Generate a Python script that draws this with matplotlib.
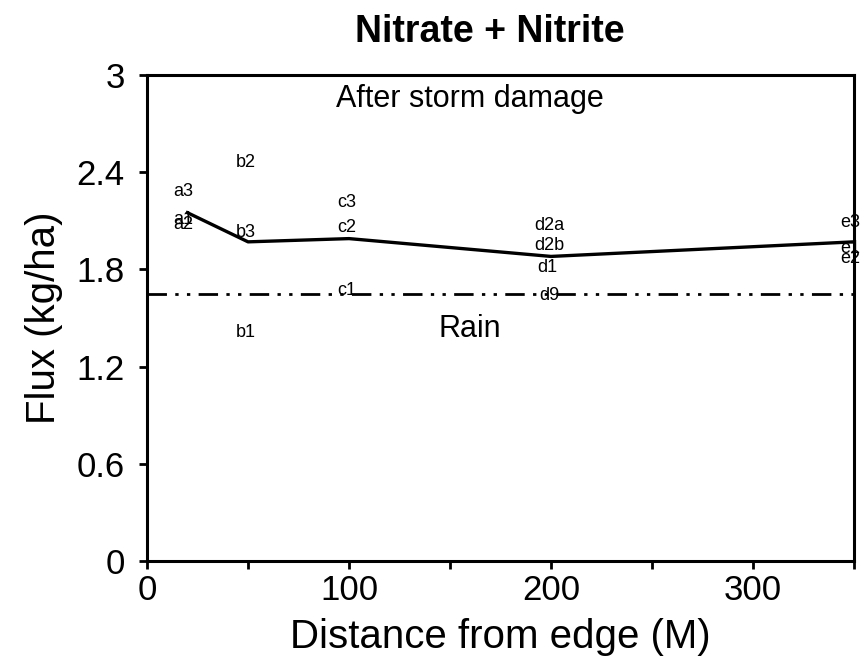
import matplotlib.pyplot as plt

plt.rcParams['font.family'] = ['Liberation Sans', 'DejaVu Sans']

# mean flux along the transect
line_x = [20, 50, 100, 200, 350]
line_y = [2.15, 1.97, 1.99, 1.88, 1.97]

# individual collector values
site_labels = ['a3', 'a1', 'a2', 'b2', 'b3', 'b1', 'c3', 'c2', 'c1',
               'd2a', 'd2b', 'd1', 'd9', 'e3', 'e1', 'e2']
site_x = [18, 18, 18, 49, 49, 49, 99, 99, 99,
          199, 199, 198, 199, 348, 348, 348]
site_y = [2.28, 2.11, 2.08, 2.46, 2.03, 1.41, 2.21, 2.06, 1.67,
          2.07, 1.95, 1.81, 1.64, 2.09, 1.93, 1.87]

rain_flux = 1.65
x_range = [0, 350]

y_ticks = [0, 0.6, 1.2, 1.8, 2.4, 3]
y_tick_labels = ['0', '0.6', '1.2', '1.8', '2.4', '3']
x_ticks = [0, 100, 200, 300]


def main():
    fig = plt.figure(figsize=(8.67, 6.67), dpi=100)
    ax = fig.add_axes([0.1696, 0.1589, 0.8154, 0.7287])

    ax.plot(line_x, line_y, color='black', linewidth=2.4)
    ax.plot(x_range, [rain_flux, rain_flux], color='black', linewidth=2,
            linestyle=(0, (7, 3, 1.2, 3, 1.2, 3)))

    for lab, x, y in zip(site_labels, site_x, site_y):
        ax.text(x, y, lab, fontsize=13, ha='center', va='center')

    ax.text(160, 2.85, 'After storm damage', fontsize=22, ha='center', va='center')
    ax.text(160, 1.43, 'Rain', fontsize=22, ha='center', va='center')

    ax.set_xlim(0, 350)
    ax.set_ylim(0, 3)
    ax.set_yticks(y_ticks)
    ax.set_yticklabels(y_tick_labels)
    ax.set_xticks(x_ticks)
    ax.set_xticks([50, 150, 250, 350], minor=True)
    ax.tick_params(axis='both', which='major', labelsize=25, length=6, width=2)
    ax.tick_params(axis='y', pad=10)
    ax.tick_params(axis='x', pad=3)
    ax.tick_params(axis='x', which='minor', length=6, width=2)
    for sp in ax.spines.values():
        sp.set_linewidth(2.2)

    ax.set_xlabel('Distance from edge (M)', fontsize=29, labelpad=8)
    ax.set_ylabel('Flux (kg/ha)', fontsize=29, labelpad=10)
    fig.text(0.565, 0.952, 'Nitrate + Nitrite', fontsize=27, fontweight='bold',
             ha='center', va='center')

    fig.savefig('out.png', dpi=100)


if __name__ == '__main__':
    main()
